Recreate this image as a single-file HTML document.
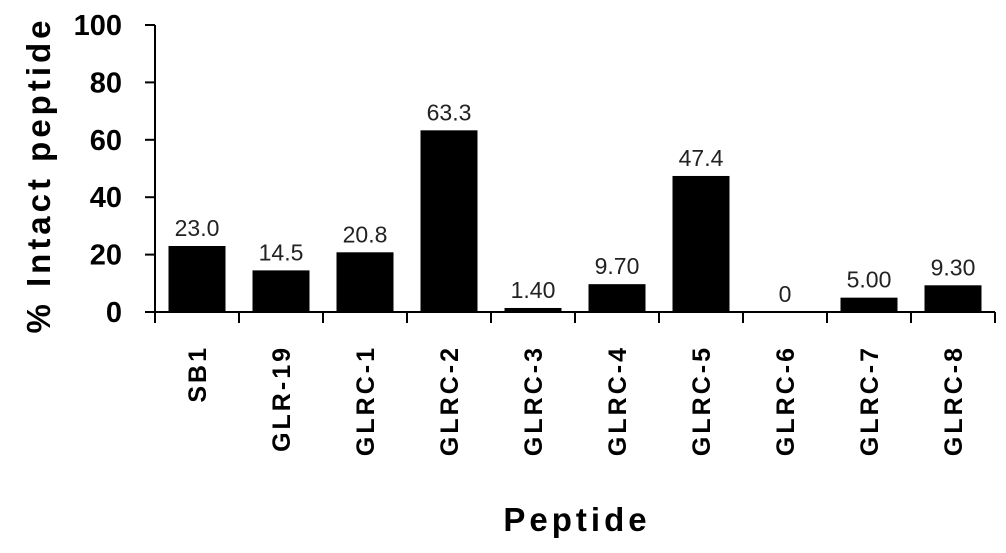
<!DOCTYPE html>
<html><head><style>
html,body{margin:0;padding:0;background:#fff;}
svg{display:block;font-family:"Liberation Sans",Arial,sans-serif;}
</style></head><body>
<svg id="chart" width="1006" height="553" viewBox="0 0 1006 553">
<g id="axes"></g>
<g id="bars"></g>
<text x="577" y="531" text-anchor="middle" font-size="33" font-weight="bold" letter-spacing="4">Peptide</text>
<text transform="translate(50,175) rotate(-90)" text-anchor="middle" font-size="33" font-weight="bold" letter-spacing="4">% Intact peptide</text>
</svg>
<script>
const categories=["SB1","GLR-19","GLRC-1","GLRC-2","GLRC-3","GLRC-4","GLRC-5","GLRC-6","GLRC-7","GLRC-8"];
const values=[23.0,14.5,20.8,63.3,1.4,9.7,47.4,0,5.0,9.3];
const valueLabels=["23.0","14.5","20.8","63.3","1.40","9.70","47.4","0","5.00","9.30"];
const yTicks=[0,20,40,60,80,100];
const NS="http://www.w3.org/2000/svg";
const x0=155,x1=995,yBase=312,yTop=25;
const band=(x1-x0)/categories.length;
const y=v=>yBase-(v/100)*(yBase-yTop);
const xb=i=>x0+i*band;
function mk(tag,attrs,parent){const e=document.createElementNS(NS,tag);for(const k in attrs)e.setAttribute(k,attrs[k]);parent.appendChild(e);return e;}
const axes=document.getElementById('axes'),bars=document.getElementById('bars');
let l=mk('line',{x1:x0,y1:yTop,x2:x0,y2:yBase,stroke:'#000','stroke-width':2},axes);


l=mk('line',{x1:x0-10,y1:yBase,x2:x1,y2:yBase,stroke:'#000','stroke-width':2},axes);


yTicks.forEach(t=>{
 const tk=mk('line',{x1:x0-10,y1:y(t),x2:x0,y2:y(t),stroke:'#000','stroke-width':2},axes);
 
 
 const tx=mk('text',{x:122,y:y(t)+10,'text-anchor':'end','font-size':29,'font-weight':'bold'},axes);
 
 
 tx.textContent=t;
});
for(let i=0;i<=categories.length;i++){
 const tk=mk('line',{x1:xb(i),y1:yBase,x2:xb(i),y2:yBase+11,stroke:'#000','stroke-width':2},axes);
 
 
}
categories.forEach((c,i)=>{
 const cx=xb(i)+band/2;
 const r=mk('rect',{x:cx-28.5,y:y(values[i]),width:57,height:yBase-y(values[i]),fill:'#000'},bars);
 
 
 const vl=mk('text',{x:cx,y:y(values[i])-10,'text-anchor':'middle','font-size':23,fill:'#222'},bars);
 
 
 vl.textContent=valueLabels[i];
 const cl=mk('text',{transform:`translate(${cx+9},345) rotate(-90)`,'text-anchor':'end','font-size':25,'font-weight':'bold','letter-spacing':3},axes);
 
 
 cl.textContent=c;
});
</script>
</body></html>
